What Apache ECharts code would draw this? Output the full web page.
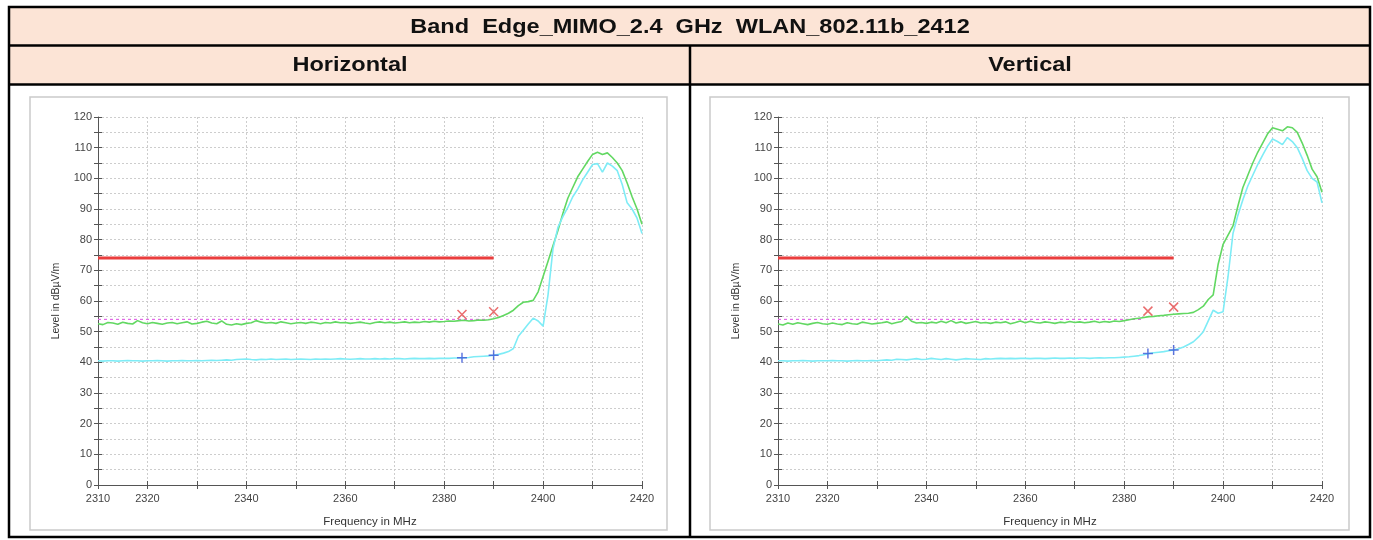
<!DOCTYPE html>
<html><head><meta charset="utf-8">
<script src="https://cdn.jsdelivr.net/npm/echarts@6/dist/echarts.min.js"></script>
<style>html,body{margin:0;padding:0;background:#fff}#c{width:1373px;height:540px}</style>
</head><body><div id="c"></div>
<script>
const titleText = 'Band  Edge_MIMO_2.4  GHz  WLAN_802.11b_2412';
const panelNames = ['Horizontal', 'Vertical'];
const xAxisName = 'Frequency in MHz';
const yAxisName = 'Level in dBµV/m';
const xLabelShown = [2310, 2320, 2340, 2360, 2380, 2400, 2420];

const freqs = [
2310,2311,2312,2313,2314,2315,2316,2317,2318,2319,
2320,2321,2322,2323,2324,2325,2326,2327,2328,2329,
2330,2331,2332,2333,2334,2335,2336,2337,2338,2339,
2340,2341,2342,2343,2344,2345,2346,2347,2348,2349,
2350,2351,2352,2353,2354,2355,2356,2357,2358,2359,
2360,2361,2362,2363,2364,2365,2366,2367,2368,2369,
2370,2371,2372,2373,2374,2375,2376,2377,2378,2379,
2380,2381,2382,2383,2384,2385,2386,2387,2388,2389,
2390,2391,2392,2393,2394,2395,2396,2397,2398,2399,
2400,2401,2402,2403,2404,2405,2406,2407,2408,2409,
2410,2411,2412,2413,2414,2415,2416,2417,2418,2419,
2420];

const hPeak = [
52.6,52.3,53.0,52.8,52.4,53.1,52.7,52.5,53.6,52.9,
52.6,53.0,52.7,52.4,52.8,53.0,52.6,52.9,53.2,52.5,
52.7,53.1,53.4,52.8,52.6,53.5,52.4,52.2,52.6,52.3,
52.7,52.9,53.6,53.1,52.8,53.0,52.7,53.2,52.9,52.6,
52.8,53.0,52.7,53.1,52.9,52.6,53.0,52.8,53.2,52.9,
53.0,52.7,52.9,53.1,52.8,52.6,53.0,53.2,52.9,53.1,
52.8,53.0,53.2,52.9,53.1,53.0,53.3,53.1,53.4,53.2,
53.3,53.5,53.4,53.6,53.7,53.5,53.6,53.8,53.7,53.9,
54.2,54.6,55.3,56.0,57.0,58.5,59.6,59.8,60.2,63.0,
68.0,73.0,78.0,83.0,88.5,93.5,97.0,100.5,103.0,105.5,
107.8,108.5,107.8,108.3,106.8,105.0,102.5,98.5,94.0,90.0,
85.0];

const hAvg = [
40.5,40.4,40.5,40.5,40.4,40.5,40.6,40.5,40.5,40.4,
40.5,40.5,40.6,40.5,40.4,40.5,40.5,40.6,40.5,40.5,
40.6,40.5,40.6,40.7,40.6,40.7,40.8,40.7,40.9,41.0,
41.1,40.9,40.8,41.0,40.9,41.1,40.9,41.0,41.1,40.9,
41.0,41.1,41.0,40.9,41.1,41.0,41.1,41.0,41.1,41.2,
41.1,41.0,41.1,41.2,41.1,41.1,41.2,41.1,41.2,41.1,
41.2,41.2,41.1,41.2,41.3,41.2,41.2,41.3,41.2,41.3,
41.3,41.3,41.4,41.4,41.5,41.6,41.8,41.9,42.0,42.1,
42.3,42.6,43.0,43.5,44.5,48.5,50.5,52.5,54.4,53.5,
51.8,62.0,77.0,84.0,87.5,90.5,94.0,96.5,99.5,102.0,
104.5,104.8,102.0,105.0,104.0,102.5,98.0,92.0,90.0,87.0,
82.0];

const vPeak = [
52.5,52.2,52.8,52.4,52.9,52.6,52.3,52.7,53.0,52.6,
52.4,52.8,52.5,52.3,52.9,52.6,52.4,53.1,52.8,52.5,
52.7,52.9,53.2,52.6,53.0,53.3,55.0,53.4,52.8,53.0,
52.7,53.1,52.8,53.4,52.9,53.6,52.8,53.2,52.7,53.0,
53.3,52.8,53.0,52.7,53.1,52.9,53.2,52.6,53.0,53.5,
52.9,53.4,53.0,52.8,53.2,53.0,52.7,53.1,52.9,53.3,
53.0,53.2,52.9,53.1,53.4,53.0,53.3,53.1,53.5,53.3,
53.6,53.9,54.2,54.4,54.6,54.9,55.0,55.2,55.3,55.5,
55.7,55.8,55.9,56.0,56.3,57.2,58.3,60.5,62.0,72.0,
78.5,81.5,84.5,91.0,97.0,101.0,105.0,108.5,111.5,114.5,
116.5,116.0,115.5,116.8,116.5,115.0,111.5,107.5,103.0,100.5,
95.5];

const vAvg = [
40.5,40.5,40.4,40.5,40.5,40.6,40.5,40.4,40.5,40.5,
40.5,40.6,40.5,40.5,40.4,40.5,40.6,40.5,40.5,40.6,
40.5,40.7,40.8,40.7,41.0,40.9,40.8,41.0,41.2,40.9,
41.0,41.3,41.1,40.9,41.2,41.0,40.8,41.0,41.2,41.1,
41.0,40.9,41.2,41.1,41.2,41.3,41.2,41.3,41.2,41.3,
41.3,41.2,41.3,41.3,41.2,41.3,41.4,41.3,41.3,41.4,
41.3,41.4,41.4,41.3,41.4,41.5,41.4,41.5,41.5,41.6,
41.7,41.8,42.0,42.2,42.5,42.9,43.1,43.3,43.5,43.8,
44.0,44.4,45.0,45.8,46.7,48.2,50.0,53.5,57.0,56.0,
56.5,68.0,82.0,88.0,93.0,97.5,101.0,104.5,107.6,110.5,
112.8,112.0,111.0,113.3,112.0,110.0,106.5,102.5,100.0,98.8,
92.0];

const peakLimitFreqs = [2310, 2390];
const peakLimitValues = [74, 74];
const hAvgLimitFreqs = [2310, 2389];
const vAvgLimitFreqs = [2310, 2384];
const avgLimitValues = [54, 54];

const hMarkFreqs = [2383.6, 2390];
const hMarkPeak = [55.6, 56.5];
const hMarkAvg = [41.5, 42.3];
const vMarkFreqs = [2384.8, 2390];
const vMarkPeak = [56.7, 58.0];
const vMarkAvg = [42.9, 44.0];

const FONT = '"Liberation Sans", Arial, sans-serif';
const pair = (xs, ys) => xs.map((x, i) => [x, ys[i]]);

const grids = [
  {left: 98, top: 117, width: 544, height: 368},
  {left: 778, top: 117, width: 544, height: 368}
];

function xAxes(gi) {
  return [{
    gridIndex: gi, type: 'value', min: 2310, max: 2420, interval: 10, position: 'bottom',
    axisLine: {onZero: false, lineStyle: {color: '#555', width: 1}},
    axisTick: {length: 4, lineStyle: {color: '#555'}},
    axisLabel: {fontSize: 11, color: '#444', fontFamily: FONT, margin: 8,
      formatter: v => xLabelShown.indexOf(v) >= 0 ? String(v) : ''},
    splitLine: {show: true, lineStyle: {type: [2, 2], color: '#cdcdcd', width: 1}},
    name: xAxisName, nameLocation: 'middle', nameGap: 31,
    nameTextStyle: {fontSize: 11.5, color: '#333', fontFamily: FONT}
  }, {
    gridIndex: gi, type: 'value', min: 2310, max: 2420, interval: 10, position: 'bottom',
    axisLine: {show: false, onZero: false},
    axisTick: {inside: true, length: 4, lineStyle: {color: '#555'}},
    axisLabel: {show: false}, splitLine: {show: false}
  }];
}
function yAxes(gi) {
  return [{
    gridIndex: gi, type: 'value', min: 0, max: 120, interval: 5, position: 'left',
    axisLine: {show: true, onZero: false, lineStyle: {color: '#555', width: 1}},
    axisTick: {show: true, length: 4, lineStyle: {color: '#555'}},
    axisLabel: {fontSize: 11, color: '#444', fontFamily: FONT, margin: 6,
      formatter: v => v % 10 === 0 ? String(v) : ''},
    splitLine: {show: true, lineStyle: {type: [2, 2], color: '#cdcdcd', width: 1}},
    name: yAxisName, nameLocation: 'middle', nameGap: 36,
    nameTextStyle: {fontSize: 10.5, color: '#333', fontFamily: FONT}
  }, {
    gridIndex: gi, type: 'value', min: 0, max: 120, interval: 5, position: 'left',
    axisLine: {show: false, onZero: false},
    axisTick: {show: true, inside: true, length: 4, lineStyle: {color: '#555'}},
    axisLabel: {show: false}, splitLine: {show: false}
  }];
}

const X_PATH = 'path://M0,0L10,10M10,0L0,10';
const PLUS_PATH = 'path://M5,0L5,10M0,5L10,5';

function panelSeries(gi, peak, avg, avgLimF, mF, mP, mA) {
  const xi = gi * 2, yi = gi * 2;
  const base = {xAxisIndex: xi, yAxisIndex: yi};
  return [
    Object.assign({type: 'line', data: pair(peakLimitFreqs, peakLimitValues), showSymbol: false,
      lineStyle: {color: '#ea3d3d', width: 3}, z: 4}, base),
    Object.assign({type: 'line', data: pair(avgLimF, avgLimitValues), showSymbol: false,
      lineStyle: {color: '#e26be6', width: 1.2, type: [3, 3]}, z: 3}, base),
    Object.assign({type: 'line', data: pair(freqs, peak), showSymbol: false,
      lineStyle: {color: '#62d862', width: 1.6}, z: 5}, base),
    Object.assign({type: 'line', data: pair(freqs, avg), showSymbol: false,
      lineStyle: {color: '#7eecf6', width: 1.6}, z: 5}, base),
    Object.assign({type: 'scatter', data: pair(mF, mP), symbol: X_PATH, symbolSize: 9,
      itemStyle: {color: 'none', borderColor: '#e5484a', borderWidth: 1.5}, z: 6}, base),
    Object.assign({type: 'scatter', data: pair(mF, mA), symbol: PLUS_PATH, symbolSize: 10,
      itemStyle: {color: 'none', borderColor: '#3a56d8', borderWidth: 1.5}, z: 6}, base)
  ];
}

const graphic = [
  {type: 'rect', shape: {x: 9, y: 7, width: 1361, height: 78}, style: {fill: '#fce4d6'}, z: 0},
  {type: 'rect', shape: {x: 30, y: 97, width: 637, height: 433}, style: {fill: 'none', stroke: '#cacaca', lineWidth: 1.5}, z: 1},
  {type: 'rect', shape: {x: 710, y: 97, width: 639, height: 433}, style: {fill: 'none', stroke: '#cacaca', lineWidth: 1.5}, z: 1},
  {type: 'rect', shape: {x: 9, y: 7, width: 1361, height: 530}, style: {fill: 'none', stroke: '#000', lineWidth: 2.5}, z: 10},
  {type: 'line', shape: {x1: 9, y1: 45.5, x2: 1370, y2: 45.5}, style: {stroke: '#000', lineWidth: 2.5}, z: 10},
  {type: 'line', shape: {x1: 9, y1: 84.5, x2: 1370, y2: 84.5}, style: {stroke: '#000', lineWidth: 2.5}, z: 10},
  {type: 'line', shape: {x1: 690, y1: 45.5, x2: 690, y2: 537}, style: {stroke: '#000', lineWidth: 2.5}, z: 10},
  {type: 'text', x: 690, y: 27, scaleX: 1.12, z: 11,
    style: {text: titleText, font: 'bold 21px ' + FONT, fill: '#111', textAlign: 'center', textVerticalAlign: 'middle'}},
  {type: 'text', x: 350, y: 65.5, scaleX: 1.12, z: 11,
    style: {text: panelNames[0], font: 'bold 21px ' + FONT, fill: '#111', textAlign: 'center', textVerticalAlign: 'middle'}},
  {type: 'text', x: 1030, y: 65.5, scaleX: 1.12, z: 11,
    style: {text: panelNames[1], font: 'bold 21px ' + FONT, fill: '#111', textAlign: 'center', textVerticalAlign: 'middle'}}
];

const chart = echarts.init(document.getElementById('c'), null, {renderer: 'canvas'});
chart.setOption({
  animation: false,
  backgroundColor: '#fff',
  grid: grids,
  xAxis: xAxes(0).concat(xAxes(1)),
  yAxis: yAxes(0).concat(yAxes(1)),
  graphic: graphic,
  series: panelSeries(0, hPeak, hAvg, hAvgLimitFreqs, hMarkFreqs, hMarkPeak, hMarkAvg)
    .concat(panelSeries(1, vPeak, vAvg, vAvgLimitFreqs, vMarkFreqs, vMarkPeak, vMarkAvg))
});
</script></body></html>
